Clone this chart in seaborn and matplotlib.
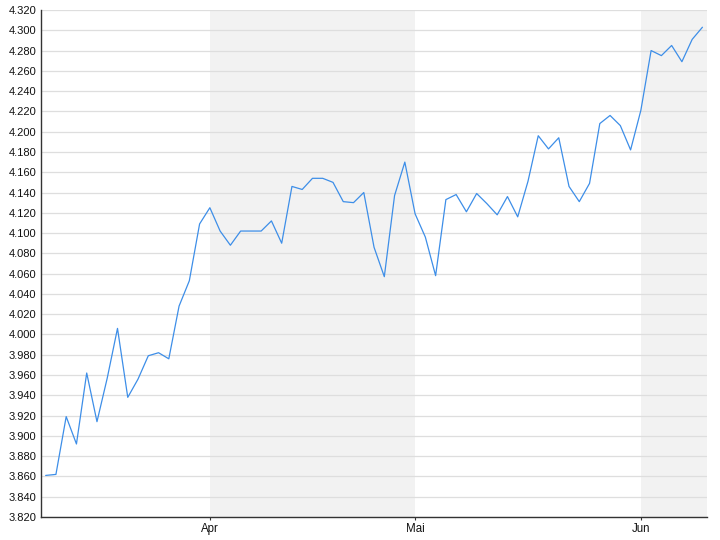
import numpy as np
import pandas as pd
import matplotlib
matplotlib.use("Agg")
import matplotlib.pyplot as plt
import seaborn as sns

# daily closing values, one per trading day (Mar .. Jun)
values = [
    3.861, 3.862, 3.919, 3.892, 3.962, 3.914, 3.957, 4.006, 3.938, 3.956,
    3.979, 3.982, 3.976, 4.028, 4.053, 4.109, 4.125, 4.102, 4.088, 4.102,
    4.102, 4.102, 4.112, 4.090, 4.146, 4.143, 4.154, 4.154, 4.150, 4.131,
    4.130, 4.140, 4.086, 4.057, 4.137, 4.170, 4.119, 4.096, 4.058, 4.133,
    4.138, 4.121, 4.139, 4.129, 4.118, 4.136, 4.116, 4.151, 4.196, 4.183,
    4.194, 4.146, 4.131, 4.149, 4.208, 4.216, 4.206, 4.182, 4.221, 4.280,
    4.275, 4.285, 4.269, 4.291, 4.303,
]
# index of first trading day of each month shown on the axis
month_starts = [16, 36, 58]
month_labels = ["Apr", "Mai", "Jun"]

df = pd.DataFrame({"day": np.arange(len(values)), "value": values})

sns.set_style("white")
plt.rcParams["font.family"] = ["Liberation Sans", "DejaVu Sans"]

fig = plt.figure(figsize=(7.2, 5.4), dpi=100)
ax = fig.add_axes([0.0563, 0.0426, 0.9257, 0.9389])

xmin, xmax = -0.5, 64.45
# alternate month shading (April and June)
ax.axvspan(month_starts[0], month_starts[1], color="#f2f2f2", zorder=0, lw=0)
ax.axvspan(month_starts[2], xmax, color="#f2f2f2", zorder=0, lw=0)

sns.lineplot(data=df, x="day", y="value", ax=ax, color="#3d8ee8", linewidth=0.9, zorder=3)

ax.set_xlim(xmin, xmax)
ax.set_ylim(3.82, 4.32)
yt = np.round(np.arange(3.82, 4.3201, 0.02), 3)
ax.set_yticks(yt)
ax.set_yticklabels([f"{v:.3f}" for v in yt])
ax.set_xticks(month_starts)
ax.set_xticklabels(month_labels)

ax.grid(axis="y", color="#dedede", linewidth=0.9, zorder=1)
ax.grid(axis="x", visible=False)
ax.set_axisbelow(True)
ax.set_xlabel("")
ax.set_ylabel("")

for s in ["top", "right"]:
    ax.spines[s].set_visible(False)
for s in ["left", "bottom"]:
    ax.spines[s].set_color("#333333")
    ax.spines[s].set_linewidth(1.0)

ax.tick_params(axis="y", length=0, pad=3.0, labelsize=8, colors="#111111")
ax.tick_params(axis="x", length=2.5, width=0.8, pad=1.5, labelsize=8.3,
               colors="#333333", labelcolor="#111111", bottom=True)

fig.savefig("out.png", dpi=100)
